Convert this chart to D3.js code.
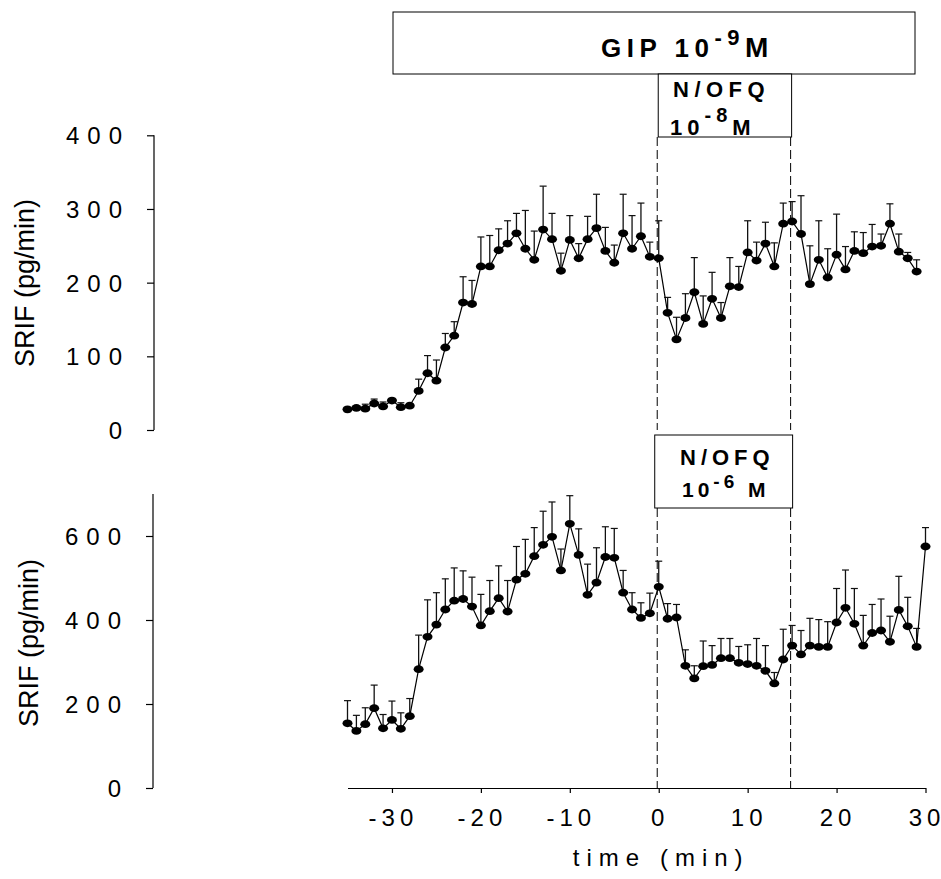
<!DOCTYPE html>
<html><head><meta charset="utf-8">
<script src="https://cdn.jsdelivr.net/npm/d3@7/dist/d3.min.js"></script>
<style>
body{margin:0;background:#fff}
text{font-family:"Liberation Sans",Arial,sans-serif;fill:#000}
</style>
</head><body>
<svg id="chart" width="941" height="879"></svg>
<script>
// ---- data ----
const timesTop = [-35,-34,-33,-32,-31,-30,-29,-28,-27,-26,-25,-24,-23,-22,-21,-20,-19,-18,-17,-16,-15,-14,-13,-12,-11,-10,-9,-8,-7,-6,-5,-4,-3,-2,-1,0,1,2,3,4,5,6,7,8,9,10,11,12,13,14,15,16,17,18,19,20,21,22,23,24,25,26,27,28,29];
const meanTop = [28,30,29,36,32,40,31,33,53,77,67,112,128,173,171,222,222,244,253,267,246,231,272,259,216,258,233,259,274,243,227,267,246,263,235,233,159,123,152,187,144,178,152,195,194,241,230,253,222,280,283,266,198,231,207,238,218,243,240,249,250,280,242,233,215];
const semTop = [2,2,6,6,6,2,6,3,16,24,28,19,19,35,32,40,42,29,31,27,52,39,59,35,24,33,20,31,46,32,24,53,45,45,20,51,21,30,33,47,38,36,21,39,28,43,25,29,32,28,27,52,52,53,39,55,31,26,28,30,16,27,24,8,16];

const timesBot = [-35,-34,-33,-32,-31,-30,-29,-28,-27,-26,-25,-24,-23,-22,-21,-20,-19,-18,-17,-16,-15,-14,-13,-12,-11,-10,-9,-8,-7,-6,-5,-4,-3,-2,-1,0,1,2,3,4,5,6,7,8,9,10,11,12,13,14,15,16,17,18,19,20,21,22,23,24,25,26,27,28,29,30];
const meanBot = [154,136,152,190,142,162,141,171,283,360,389,425,446,450,432,387,421,452,420,496,510,552,579,598,518,629,555,460,489,550,548,465,425,405,416,479,403,406,291,261,290,293,309,309,298,295,291,279,249,306,339,318,339,336,336,394,429,391,339,369,375,348,424,385,336,575];
const semBot = [54,37,39,55,33,45,38,42,81,88,76,73,78,67,70,74,73,77,74,79,82,68,80,83,51,67,62,73,83,72,70,53,40,36,48,61,36,31,38,30,60,46,47,47,39,46,65,60,26,72,48,57,65,65,60,81,90,84,72,68,75,61,80,69,44,45];

const xTicks = [-30,-20,-10,0,10,20,30];
const yTicksTop = [0,100,200,300,400];
const yTicksBot = [0,200,400,600];
const treatStart = 0, treatEnd = 15;
const yLabel = "SRIF (pg/min)";
const xLabel = "time (min)";

// ---- drawing ----
const svg = d3.select("#chart");
const x = d3.scaleLinear().domain([-35,30]).range([347.5,925.5]);
const yTop = d3.scaleLinear().domain([0,400]).range([430,135.3]);
const yBot = d3.scaleLinear().domain([0,700]).range([788,494]);

// text with spacing only between characters (no trailing gap)
function spaced(sel, str, gap){
  String(str).split("").forEach((ch,i)=>{
    sel.append("tspan").attr("dx", i===0 ? 0 : gap).text(ch);
  });
}

function yAxis(y, ticks, ax, titleCenter, titleX){
  const g = svg.append("g").attr("transform",`translate(${ax},0)`);
  const axis = d3.axisLeft(y).tickValues(ticks).tickSize(7).tickPadding(0).tickSizeOuter(0).tickFormat("");
  g.call(axis);
  g.select(".domain").remove();
  g.selectAll(".tick line").attr("stroke","#000").attr("stroke-width",1.2);
  const [d0,d1] = y.domain();
  g.append("line").attr("x1",0).attr("x2",0).attr("y1",y(d0)).attr("y2",y(d1)).attr("stroke","#000").attr("stroke-width",1.2);
  g.selectAll("text.lab").data(ticks).join("text").attr("class","lab")
    .attr("x",-32).attr("y",d=>y(d)).attr("dy","0.38em")
    .attr("text-anchor","end").style("font-size","24px")
    .each(function(d){ spaced(d3.select(this), d, 8); });
  svg.append("text").attr("transform",`translate(${titleX},${titleCenter}) rotate(-90)`)
    .attr("text-anchor","middle").style("font-size","27px").text(yLabel);
}
yAxis(yTop, yTicksTop, 154, 283, 34);
yAxis(yBot, yTicksBot, 153, 643, 38);

// x axis
const gx = svg.append("g").attr("transform","translate(0,788)");
gx.call(d3.axisBottom(x).tickValues(xTicks).tickSize(5).tickSizeOuter(0).tickFormat(""));
gx.select(".domain").attr("stroke","#000").attr("stroke-width",1.2);
gx.selectAll(".tick line").attr("stroke","#000").attr("stroke-width",1.2);
svg.append("g").selectAll("text").data(xTicks).join("text")
  .attr("x",d=>x(d)-1).attr("y",826).attr("text-anchor","middle")
  .style("font-size","24px")
  .each(function(d){ spaced(d3.select(this), d, 5); });
svg.append("text").attr("x",x(0)-1).attr("y",866).attr("text-anchor","middle")
  .style("font-size","24px")
  .each(function(){ spaced(d3.select(this), xLabel, 7); });

// treatment dashed lines
function dashed(y1,y2){
  [treatStart,treatEnd].forEach(t=>{
    svg.append("line").attr("x1",x(t)-1.5).attr("x2",x(t)-1.5).attr("y1",y1).attr("y2",y2)
      .attr("stroke","#000").attr("stroke-width",1).attr("stroke-dasharray","9,4");
  });
}
dashed(137,430);
dashed(508,788);

// boxes
function box(x0,y0,x1,y1){
  svg.append("rect").attr("x",x0).attr("y",y0).attr("width",x1-x0).attr("height",y1-y0)
    .attr("fill","#fff").attr("stroke","#000").attr("stroke-width",1);
}
box(393,12,915,74);
box(x(treatStart)-0.5,74,x(treatEnd)-0.5,137);
box(x(treatStart)-4,435,x(treatEnd)+0.5,508);

// GIP label
const gip = svg.append("text").attr("x",601).attr("y",57).style("font-size","26px")
  .style("font-weight","bold").style("letter-spacing","5.5px");
gip.append("tspan").text("GIP 10");
gip.append("tspan").attr("dy",-12).style("font-size","22px").text("-9");
gip.append("tspan").attr("dy",12).style("font-size","28px").text("M");

// top N/OFQ label
svg.append("text").attr("x",673).attr("y",97).style("font-size","22px")
  .style("font-weight","bold").style("letter-spacing","5.5px").text("N/OFQ");
const t2 = svg.append("text").attr("x",670).attr("y",135)
  .style("font-size","22px").style("font-weight","bold").style("letter-spacing","5px");
t2.append("tspan").text("10");
t2.append("tspan").attr("dy",-13).style("font-size","20px").text("-8");
t2.append("tspan").attr("dy",13).text("M");

// bottom N/OFQ label
svg.append("text").attr("x",680).attr("y",465)
  .style("font-size","22px").style("font-weight","bold").style("letter-spacing","5px").text("N/OFQ");
const t3 = svg.append("text").attr("x",682).attr("y",497)
  .style("font-size","21px").style("font-weight","bold").style("letter-spacing","4px");
t3.append("tspan").text("10");
t3.append("tspan").attr("dy",-9).style("font-size","19px").text("-6");
t3.append("tspan").attr("dy",9).text(" M");

// series
function series(times, means, sems, y){
  const data = times.map((t,i)=>({t, m:means[i], s:sems[i]}));
  const g = svg.append("g");
  g.selectAll("line.eb").data(data).join("line").attr("class","eb")
    .attr("x1",d=>x(d.t)).attr("x2",d=>x(d.t)).attr("y1",d=>y(d.m)).attr("y2",d=>y(d.m+d.s))
    .attr("stroke","#111").attr("stroke-width",1.3);
  g.selectAll("line.cap").data(data).join("line").attr("class","cap")
    .attr("x1",d=>x(d.t)-3.5).attr("x2",d=>x(d.t)+3.5).attr("y1",d=>y(d.m+d.s)).attr("y2",d=>y(d.m+d.s))
    .attr("stroke","#111").attr("stroke-width",1.2);
  g.append("path").datum(data).attr("fill","none").attr("stroke","#000").attr("stroke-width",1.2)
    .attr("d", d3.line().x(d=>x(d.t)).y(d=>y(d.m)));
  g.selectAll("ellipse").data(data).join("ellipse")
    .attr("cx",d=>x(d.t)).attr("cy",d=>y(d.m)).attr("rx",5).attr("ry",3.9).attr("fill","#000");
}
series(timesTop, meanTop, semTop, yTop);
series(timesBot, meanBot, semBot, yBot);
</script>
</body></html>
